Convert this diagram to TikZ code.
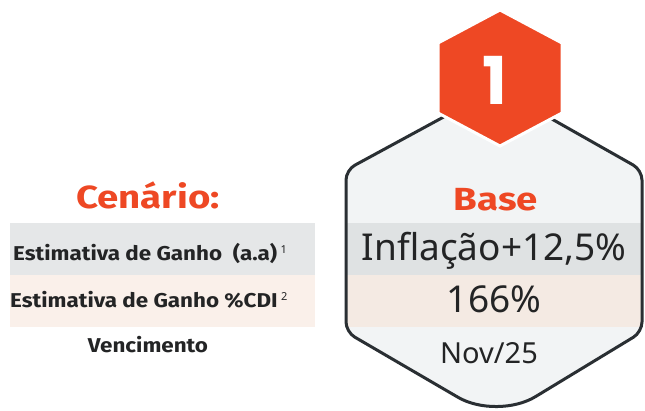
\documentclass[tikz,border=0pt]{standalone}
\usepackage{fontspec}
\setmainfont{Noto Sans}
\newfontfamily\headfont{Fira Sans Bold}[FakeStretch=1.2]
\newfontfamily\labelfont{Fira Sans Bold}[FakeStretch=1.12]
\newfontfamily\numfont{Poppins}
\definecolor{brandorange}{HTML}{EE4824}
\definecolor{ink}{HTML}{232425}
\definecolor{hexfill}{HTML}{F2F4F5}
\definecolor{hexline}{HTML}{2A2F33}
\definecolor{rowgray}{HTML}{E5E7E8}
\definecolor{rowpeach}{HTML}{FAF0EA}
\definecolor{bandgray}{HTML}{DFE2E3}
\definecolor{bandpeach}{HTML}{F4EAE3}
\newcommand{\notemark}[1]{\,\raisebox{7pt}{\normalfont\fontsize{11}{12}\selectfont #1}}
\begin{document}
\begin{tikzpicture}[x=1pt,y=-1pt,
  heading/.style={inner sep=0pt, anchor=base, text=brandorange, font=\headfont\fontsize{32}{36}\selectfont},
  label/.style={inner sep=0pt, anchor=base, text=ink, font=\labelfont\fontsize{20}{24}\selectfont},
  value/.style={inner sep=0pt, anchor=base, text=ink, font=\fontsize{37}{40}\selectfont},
  rowbox/.style={draw=none, inner sep=0pt, minimum width=305pt, minimum height=52pt}
]
\useasboundingbox (0,0) rectangle (645,410);
\fill[white] (0,0) rectangle (645,410);

% left table rows
\node[rowbox, fill=rowgray] (row1) at (162.5,249) {};
\node[rowbox, fill=rowpeach] (row2) at (162.5,301) {};

% big hexagon
\coordinate (ht) at (497,88);
\coordinate (hur) at (642,170);
\coordinate (hlr) at (642,332);
\coordinate (hb) at (497,420);
\coordinate (hll) at (346,332);
\coordinate (hul) at (346,170);
\def\hexpath{(ht) [rounded corners=10pt] -- (hur) -- (hlr) [rounded corners=45pt] -- (hb) [rounded corners=10pt] -- (hll) -- (hul) -- cycle}
\fill[hexfill] \hexpath;
\begin{scope}
  \clip \hexpath;
  \fill[bandgray] (330,223) rectangle (650,275);
  \fill[bandpeach] (330,275) rectangle (650,327);
\end{scope}
\draw[hexline, line width=3pt, line join=round] \hexpath;

% orange badge
\coordinate (ot) at (500,10);
\coordinate (our) at (562,43);
\coordinate (olr) at (562,113);
\coordinate (ob) at (500,146);
\coordinate (oll) at (438,113);
\coordinate (oul) at (438,43);
\fill[brandorange, draw=white, line width=3pt] (ot) -- (our) -- (olr) -- (ob) -- (oll) -- (oul) -- cycle;
\node[inner sep=0pt, anchor=base, text=white, font=\numfont\bfseries\fontsize{66}{70}\selectfont] (num) at (495,104) {1};

% left labels
\node[heading] (cen) at (148,208) {Cenário:};
\node[label, anchor=base west] (lab1) at (13,260) {Estimativa de Ganho\ \ (a.a)\notemark{1}};
\node[label, anchor=base west] (lab2) at (10,307) {Estimativa de Ganho \%CDI\notemark{2}};
\node[label] (lab3) at (148,352) {Vencimento};

% hexagon values
\node[heading] (base) at (496,210) {Base};
\node[value] (v1) at (494,260) {Inflação+12,5\%};
\node[value] (v2) at (494,312) {166\%};
\node[value, font=\fontsize{29}{32}\selectfont] (v3) at (489,363) {Nov/25};
\end{tikzpicture}
\end{document}
